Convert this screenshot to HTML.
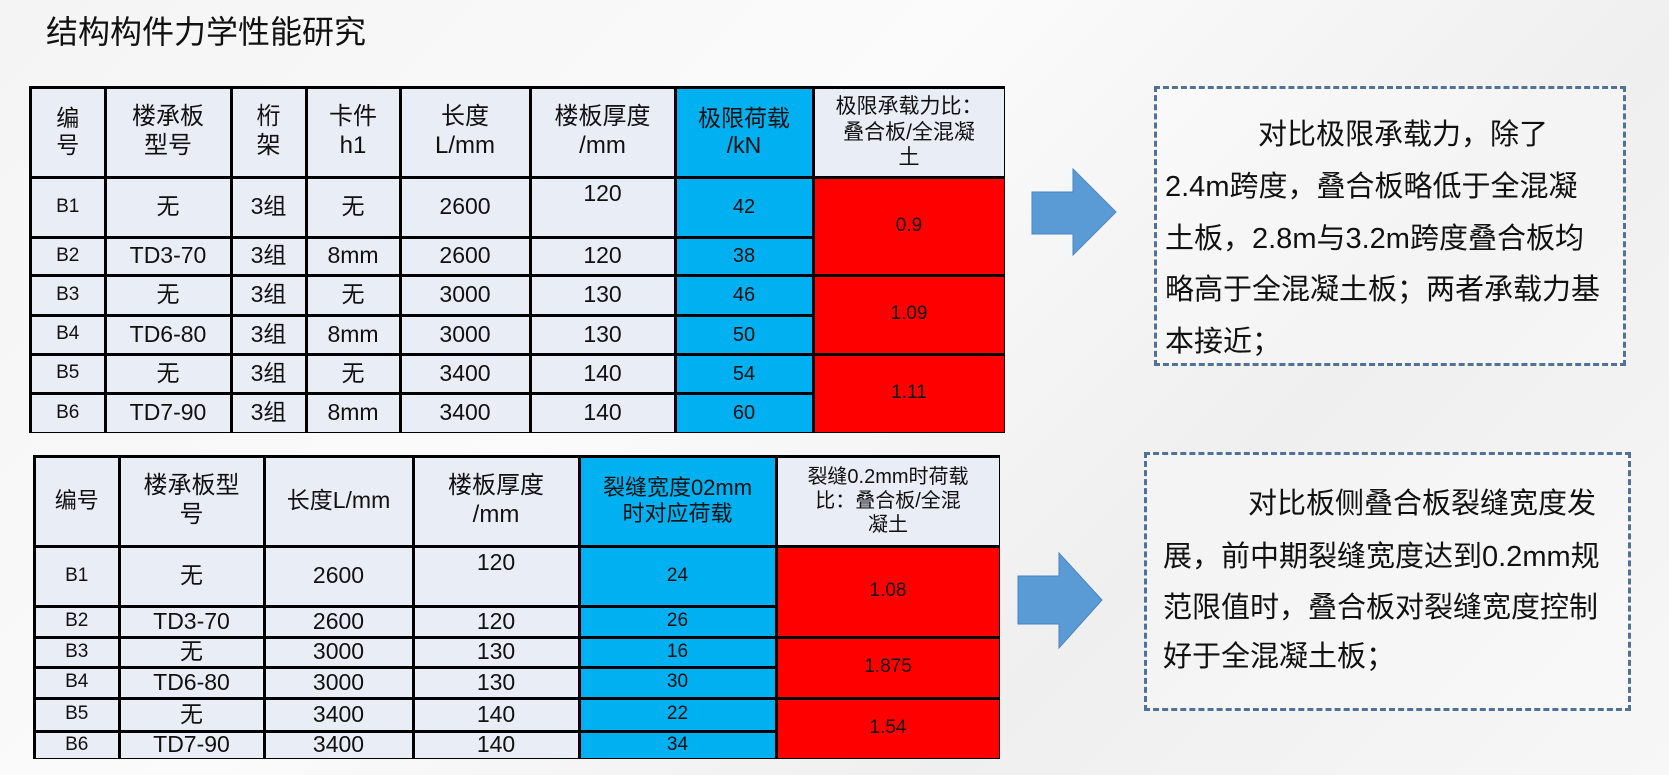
<!DOCTYPE html>
<html><head><meta charset="utf-8">
<style>
html,body{margin:0;padding:0;}
body{width:1669px;height:775px;position:relative;overflow:hidden;background:linear-gradient(135deg,#f4f4f4 0%,#fbfbfb 40%,#efefef 70%,#f7f7f7 100%);font-family:"Liberation Sans","Noto Sans CJK SC",sans-serif;color:#111;}
.tbl{position:absolute;background:#000;}
.c{position:absolute;display:flex;align-items:center;justify-content:center;text-align:center;background:#e9edf5;color:#111;line-height:1.2;box-sizing:border-box;white-space:pre-line;}
.b{background:#00b0f0;}
.r{background:#ff0000;}
.box{position:absolute;border:3px dashed #4f7298;box-sizing:border-box;background:rgba(255,255,255,0.3);}
.t{position:absolute;font-size:29px;color:#111;white-space:nowrap;}
</style></head><body>
<div style="position:absolute;left:46px;top:7px;font-size:32px;color:#111;">结构构件力学性能研究</div>

<div id="root"></div>

<svg style="position:absolute;left:0;top:0" width="1669" height="775">
<polygon points="1032,192 1073,192 1073,169 1116,212 1073,255 1073,234 1032,234" fill="#5b9bd5" stroke="#4a86c0" stroke-width="1"/>
<polygon points="1018,576 1059,576 1059,553 1102,600 1059,648 1059,624 1018,624" fill="#5b9bd5" stroke="#4a86c0" stroke-width="1"/>
</svg>

<div class="box" style="left:1154px;top:86px;width:472px;height:280px;"></div>
<div class="t" style="left:1258px;top:111px;">对比极限承载力，除了</div>
<div class="t" style="left:1165px;top:163px;">2.4m跨度，叠合板略低于全混凝</div>
<div class="t" style="left:1165px;top:215px;">土板，2.8m与3.2m跨度叠合板均</div>
<div class="t" style="left:1165px;top:266px;">略高于全混凝土板；两者承载力基</div>
<div class="t" style="left:1165px;top:318px;">本接近；</div>

<div class="box" style="left:1144px;top:452px;width:487px;height:259px;"></div>
<div class="t" style="left:1248px;top:480px;">对比板侧叠合板裂缝宽度发</div>
<div class="t" style="left:1163px;top:533px;">展，前中期裂缝宽度达到0.2mm规</div>
<div class="t" style="left:1163px;top:584px;">范限值时，叠合板对裂缝宽度控制</div>
<div class="t" style="left:1163px;top:633px;">好于全混凝土板；</div>

<script>
function build(X,Y,cells){
  var root=document.getElementById('root');
  var t=document.createElement('div');t.className='tbl';
  t.style.left=X[0]+'px';t.style.top=Y[0]+'px';
  t.style.width=(X[X.length-1]-X[0])+'px';t.style.height=(Y[Y.length-1]-Y[0])+'px';
  root.appendChild(t);
  cells.forEach(function(c){
    var d=document.createElement('div');d.className='c '+(c[5]||'');
    var x0=X[c[0]],x1=X[c[0]+c[2]],y0=Y[c[1]],y1=Y[c[1]+c[3]];
    d.style.left=(x0-X[0]+(c[0]==0?3:1.5))+'px';
    d.style.top=(y0-Y[0]+(c[1]==0?3:1.5))+'px';
    d.style.width=(x1-x0-(c[0]==0?4.5:3))+'px';
    d.style.height=(y1-y0-(c[1]==0?4.5:3))+'px';
    d.style.fontSize=(c[6]||21)+'px';
    if(c[7]=='top'){d.style.alignItems='flex-start';d.style.paddingTop='1px';}
    d.textContent=c[4];
    t.appendChild(d);
  });
}
var X1=[29,105,231,306,400,530,675,813,1005],Y1=[86,177,237,275,315,354,393,433];
var c1=[
[0,0,1,1,'编\n号','',23],[1,0,1,1,'楼承板\n型号','',24],[2,0,1,1,'桁\n架','',24],[3,0,1,1,'卡件\nh1','',24],
[4,0,1,1,'长度\nL/mm','',24],[5,0,1,1,'楼板厚度\n/mm','',24],[6,0,1,1,'极限荷载\n/kN','b',23],[7,0,1,1,'极限承载力比：\n叠合板/全混凝\n土','',21]];
var d1=[['B1','无','3组','无','2600','120','42'],['B2','TD3-70','3组','8mm','2600','120','38'],['B3','无','3组','无','3000','130','46'],
['B4','TD6-80','3组','8mm','3000','130','50'],['B5','无','3组','无','3400','140','54'],['B6','TD7-90','3组','8mm','3400','140','60']];
d1.forEach(function(r,i){r.forEach(function(v,j){
  var fs=j==0?19:(j==6?20:23);
  c1.push([j,i+1,1,1,v,j==6?'b':'',fs,(i==0&&j==5)?'top':'']);});});
c1.push([7,1,1,2,'0.9','r',19]);c1.push([7,3,1,2,'1.09','r',19]);c1.push([7,5,1,2,'1.11','r',19]);
build(X1,Y1,c1);

var X2=[33,119,264,413,579,776,1000],Y2=[455,546,606,637,667,698,731,759];
var c2=[[0,0,1,1,'编号','',22],[1,0,1,1,'楼承板型\n号','',24],[2,0,1,1,'长度L/mm','',23],[3,0,1,1,'楼板厚度\n/mm','',24],
[4,0,1,1,'裂缝宽度02mm\n时对应荷载','b',22],[5,0,1,1,'裂缝0.2mm时荷载\n比：叠合板/全混\n凝土','',20]];
var d2=[['B1','无','2600','120','24'],['B2','TD3-70','2600','120','26'],['B3','无','3000','130','16'],
['B4','TD6-80','3000','130','30'],['B5','无','3400','140','22'],['B6','TD7-90','3400','140','34']];
d2.forEach(function(r,i){r.forEach(function(v,j){
  var fs=j==0?19:(j==4?19:23);
  c2.push([j,i+1,1,1,v,j==4?'b':'',fs,(i==0&&j==3)?'top':'']);});});
c2.push([5,1,1,2,'1.08','r',19]);c2.push([5,3,1,2,'1.875','r',19]);c2.push([5,5,1,2,'1.54','r',19]);
build(X2,Y2,c2);
</script>
</body></html>
